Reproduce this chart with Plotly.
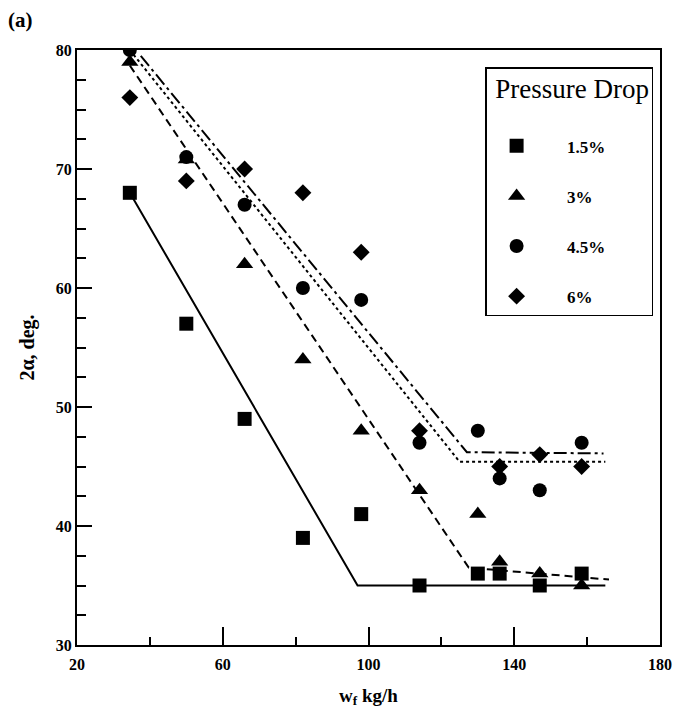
import plotly.graph_objects as go

# ---- data ----
w_vals = [34.5, 50, 66, 82, 98, 114, 130, 136, 147, 158.5]
y_15 = [68, 57, 49, 39, 41, 35, 36, 36, 35, 36]
y_3 = [79, 70.8, 62, 54, 48, 43, 41, 37, 36, 35]
y_45 = [80, 71, 67, 60, 59, 47, 48, 44, 43, 47]
w_6 = [34.5, 50, 66, 82, 98, 114, 136, 147, 158.5]
y_6 = [76, 69, 70, 68, 63, 48, 45, 46, 45]

fit15_x = [34.5, 97, 165]
fit15_y = [68, 35, 35]
fit3_x = [34.5, 127.5, 166]
fit3_y = [78.7, 36.5, 35.5]
fit45_x = [34.5, 125, 165]
fit45_y = [80, 45.4, 45.4]
fit6_x = [37.5, 127, 164.5]
fit6_y = [79.5, 46.2, 46.1]

labels = ["1.5%", "3%", "4.5%", "6%"]
x_ticks = [20, 60, 100, 140, 180]
y_ticks = [30, 40, 50, 60, 70, 80]

SERIF = "Liberation Serif"
PAD = "\u2003\u2009"  # gap between legend symbol and label

fig = go.Figure()

series = [
    (w_vals, y_15, "square", 14),
    (w_vals, y_3, "triangle-up", 15),
    (w_vals, y_45, "circle", 14),
    (w_6, y_6, "diamond", 13),
]
for i, (xs, ys, sym, sz) in enumerate(series):
    fig.add_trace(go.Scatter(
        x=xs, y=ys, mode="markers", name=PAD + labels[i], legendgroup=labels[i],
        marker=dict(symbol=sym, size=sz, color="black"),
    ))

fits = [
    (fit15_x, fit15_y, "solid"),
    (fit3_x, fit3_y, "8px,5px"),
    (fit45_x, fit45_y, "dot"),
    (fit6_x, fit6_y, "13px,4px,3px,4px"),
]
for i, (xs, ys, dash) in enumerate(fits):
    fig.add_trace(go.Scatter(
        x=xs, y=ys, mode="lines", showlegend=False,
        line=dict(color="black", width=2, dash=dash),
    ))

fig.update_layout(
    width=684, height=715,
    margin=dict(l=77, r=17, t=50, b=70),
    paper_bgcolor="white", plot_bgcolor="white",
    font=dict(family=SERIF, color="black"),
    legend=dict(
        x=0.700, y=0.9714, xanchor="left", yanchor="top",
        bordercolor="black", borderwidth=1.5, bgcolor="white",
        title=dict(text="<span style='font-size:27px'>\u00a0Pressure Drop</span><br>\u00a0",
                   font=dict(family=SERIF, size=23, weight="normal")),
        font=dict(family=SERIF, size=17, weight="bold"),
        itemwidth=50, tracegroupgap=25, traceorder="grouped",
    ),
    annotations=[dict(
        text="<b>(a)</b>", xref="paper", yref="paper", x=-0.0966, y=1.0504,
        xanchor="center", yanchor="middle", showarrow=False,
        font=dict(family=SERIF, size=21),
    )],
)

fig.update_xaxes(
    range=[20, 180], tickvals=x_ticks, ticktext=[str(v) for v in x_ticks],
    ticks="inside", ticklen=18, tickwidth=1.5, tickcolor="black",
    minor=dict(dtick=20, tick0=20, ticks="inside", ticklen=8, tickwidth=1.5, tickcolor="black"),
    showline=True, linecolor="black", linewidth=2, mirror=True,
    showgrid=False, zeroline=False, ticklabelstandoff=4, ticklabeloverflow="allow",
    tickfont=dict(family=SERIF, size=16, weight="bold"),
    title=dict(text="w<sub>f</sub> kg/h", font=dict(family=SERIF, size=19, weight="bold"), standoff=16),
)
fig.update_yaxes(
    range=[30, 80], tickvals=y_ticks, ticktext=[str(v) for v in y_ticks],
    ticks="inside", ticklen=15, tickwidth=1.5, tickcolor="black",
    minor=dict(dtick=2.5, tick0=30, ticks="inside", ticklen=9, tickwidth=1.5, tickcolor="black"),
    showline=True, linecolor="black", linewidth=2, mirror=True,
    showgrid=False, zeroline=False,
    tickfont=dict(family=SERIF, size=16, weight="bold"),
    title=dict(text="2α, deg.", font=dict(family=SERIF, size=20, weight="bold"), standoff=16),
)

fig.write_html("out.html", config={"displayModeBar": False},
               post_script="document.body.style.margin='0';")
